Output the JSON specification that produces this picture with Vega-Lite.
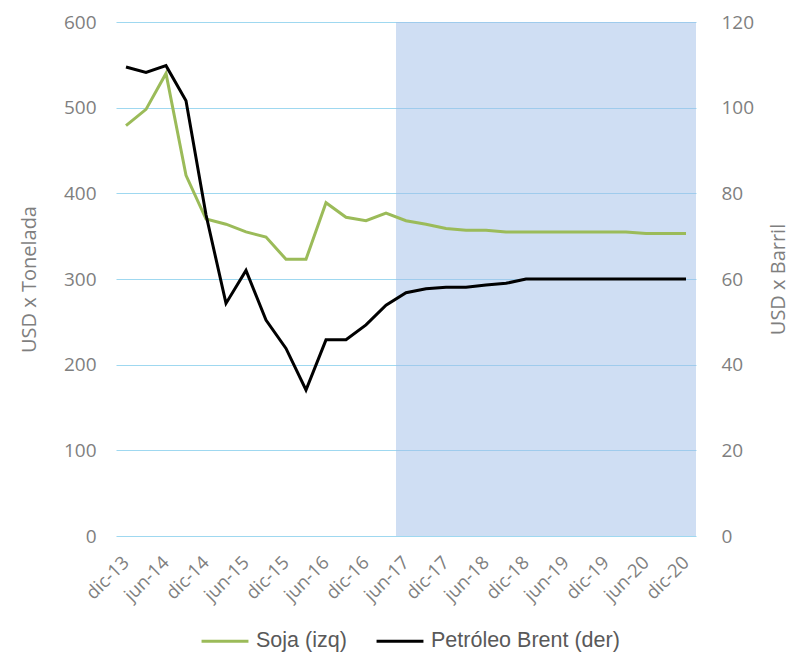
{
  "$schema": "https://vega.github.io/schema/vega-lite/v6.json",
  "width": 580,
  "height": 514,
  "autosize": {"type": "none"},
  "padding": {"left": 116, "top": 22, "right": 95, "bottom": 119},
  "background": "white",
  "config": {"view": {"stroke": null}, "font": "Open Sans"},
  "data": {
    "values": [
      {"fecha": "dic-13", "soja": 479, "brent": 109.5, "proyeccion": false},
      {"fecha": "mar-14", "soja": 498, "brent": 108.2, "proyeccion": false},
      {"fecha": "jun-14", "soja": 540, "brent": 109.8, "proyeccion": false},
      {"fecha": "sep-14", "soja": 421, "brent": 101.6, "proyeccion": false},
      {"fecha": "dic-14", "soja": 370, "brent": 75, "proyeccion": false},
      {"fecha": "mar-15", "soja": 364, "brent": 54.3, "proyeccion": false},
      {"fecha": "jun-15", "soja": 355, "brent": 62, "proyeccion": false},
      {"fecha": "sep-15", "soja": 349, "brent": 50.4, "proyeccion": false},
      {"fecha": "dic-15", "soja": 323, "brent": 43.8, "proyeccion": false},
      {"fecha": "mar-16", "soja": 323, "brent": 34.1, "proyeccion": false},
      {"fecha": "jun-16", "soja": 389, "brent": 45.8, "proyeccion": false},
      {"fecha": "sep-16", "soja": 372, "brent": 45.8, "proyeccion": false},
      {"fecha": "dic-16", "soja": 368, "brent": 49.3, "proyeccion": false},
      {"fecha": "mar-17", "soja": 377, "brent": 53.9, "proyeccion": false},
      {"fecha": "jun-17", "soja": 368, "brent": 56.8, "proyeccion": true},
      {"fecha": "sep-17", "soja": 364, "brent": 57.7, "proyeccion": true},
      {"fecha": "dic-17", "soja": 359, "brent": 58.1, "proyeccion": true},
      {"fecha": "mar-18", "soja": 357, "brent": 58.1, "proyeccion": true},
      {"fecha": "jun-18", "soja": 357, "brent": 58.6, "proyeccion": true},
      {"fecha": "sep-18", "soja": 355, "brent": 59.0, "proyeccion": true},
      {"fecha": "dic-18", "soja": 355, "brent": 60, "proyeccion": true},
      {"fecha": "mar-19", "soja": 355, "brent": 60, "proyeccion": true},
      {"fecha": "jun-19", "soja": 355, "brent": 60, "proyeccion": true},
      {"fecha": "sep-19", "soja": 355, "brent": 60, "proyeccion": true},
      {"fecha": "dic-19", "soja": 355, "brent": 60, "proyeccion": true},
      {"fecha": "mar-20", "soja": 355, "brent": 60, "proyeccion": true},
      {"fecha": "jun-20", "soja": 353, "brent": 60, "proyeccion": true},
      {"fecha": "sep-20", "soja": 353, "brent": 60, "proyeccion": true},
      {"fecha": "dic-20", "soja": 353, "brent": 60, "proyeccion": true}
    ]
  },
  "layer": [
    {
      "transform": [{"filter": "datum.proyeccion"}],
      "mark": {"type": "bar", "color": "#9fbde7", "opacity": 0.5},
      "encoding": {
        "x": {
          "field": "fecha",
          "type": "ordinal",
          "scale": {
            "type": "band",
            "paddingInner": 0,
            "paddingOuter": 0,
            "domain": ["dic-13","mar-14","jun-14","sep-14","dic-14","mar-15","jun-15","sep-15","dic-15","mar-16","jun-16","sep-16","dic-16","mar-17","jun-17","sep-17","dic-17","mar-18","jun-18","sep-18","dic-18","mar-19","jun-19","sep-19","dic-19","mar-20","jun-20","sep-20","dic-20"]
          },
          "axis": {
            "title": null,
            "values": ["dic-13","jun-14","dic-14","jun-15","dic-15","jun-16","dic-16","jun-17","dic-17","jun-18","dic-18","jun-19","dic-19","jun-20","dic-20"],
            "labelAngle": -45,
            "labelAlign": "right",
            "labelBaseline": "middle",
            "labelPadding": 23,
            "labelFont": "Open Sans",
            "labelFontSize": 18.5,
            "labelColor": "#7f7f7f",
            "domain": false,
            "ticks": false,
            "grid": false
          }
        }
      }
    },
    {
      "mark": {"type": "line", "strokeWidth": 3},
      "encoding": {
        "x": {"field": "fecha", "type": "ordinal", "bandPosition": 0.5},
        "y": {
          "field": "soja",
          "type": "quantitative",
          "scale": {"domain": [0, 600], "nice": false},
          "axis": {
            "title": "USD x Tonelada",
            "orient": "left",
            "values": [0, 100, 200, 300, 400, 500, 600],
            "grid": true,
            "gridColor": "#9fd8f0",
            "gridWidth": 1,
            "domain": false,
            "ticks": false,
            "labelPadding": 20,
            "labelFont": "Open Sans",
            "labelFontSize": 19,
            "labelColor": "#7f7f7f",
            "titleFont": "Open Sans",
            "titleFontSize": 20,
            "titleFontWeight": "normal",
            "titleColor": "#7f7f7f",
            "titlePadding": 24
          }
        },
        "color": {
          "datum": "Soja (izq)",
          "type": "nominal",
          "scale": {"domain": ["Soja (izq)", "Petróleo Brent (der)"], "range": ["#9bbb59", "#000000"]},
          "legend": {
            "orient": "none",
            "legendX": 84,
            "legendY": 594,
            "direction": "horizontal",
            "title": null,
            "symbolType": "stroke",
            "symbolSize": 2200,
            "symbolStrokeWidth": 3,
            "labelFont": "Liberation Sans",
            "labelFontSize": 21.5,
            "labelColor": "#595959",
            "labelLimit": 400,
            "labelOffset": 6,
            "columnPadding": 23
          }
        }
      }
    },
    {
      "mark": {"type": "line", "strokeWidth": 3},
      "encoding": {
        "x": {"field": "fecha", "type": "ordinal", "bandPosition": 0.5},
        "y": {
          "field": "brent",
          "type": "quantitative",
          "scale": {"domain": [0, 120], "nice": false},
          "axis": {
            "title": "USD x Barril",
            "orient": "right",
            "values": [0, 20, 40, 60, 80, 100, 120],
            "grid": false,
            "domain": false,
            "ticks": false,
            "labelPadding": 25,
            "labelFont": "Open Sans",
            "labelFontSize": 19,
            "labelColor": "#7f7f7f",
            "titleFont": "Open Sans",
            "titleFontSize": 20,
            "titleFontWeight": "normal",
            "titleColor": "#7f7f7f",
            "titleAngle": 270,
            "titleBaseline": "top",
            "titlePadding": 15
          }
        },
        "color": {"datum": "Petróleo Brent (der)", "type": "nominal"}
      }
    }
  ],
  "resolve": {"scale": {"y": "independent"}}
}
